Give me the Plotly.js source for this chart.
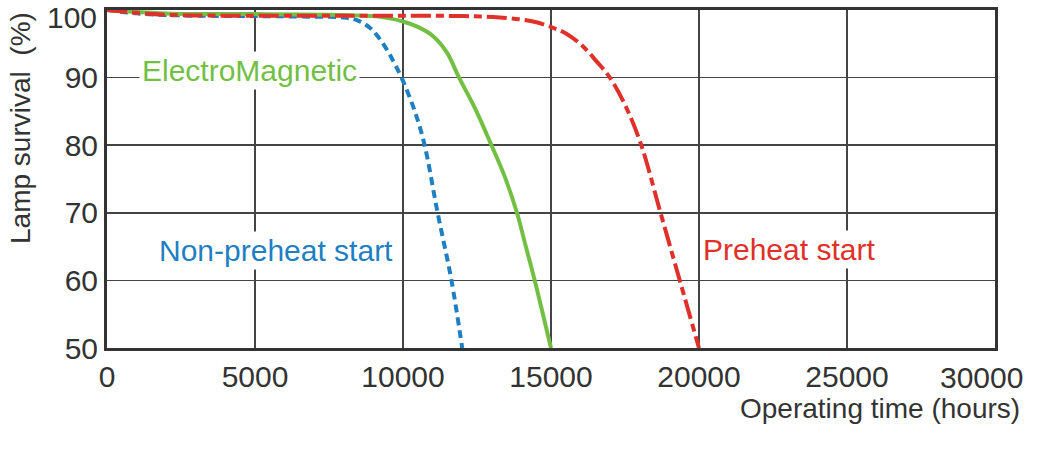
<!DOCTYPE html>
<html>
<head>
<meta charset="utf-8">
<script src="https://cdn.plot.ly/plotly-3.0.1.min.js"></script>
<style>
  html, body { margin: 0; padding: 0; background: #fff; }
  #chart { width: 1048px; height: 460px; }
</style>
</head>
<body>
<div id="chart"></div>
<script>
// operating hours / survival %
var nonPreheatHours = [0, 1000, 2500, 5000, 7000, 8000, 8500, 8900, 9200, 9500, 9700, 9950, 10400, 10730, 11170, 11637, 12000];
var nonPreheatSurv  = [100, 99.5, 99.2, 99.1, 99.0, 98.9, 98.4, 97.3, 95.8, 93.8, 92.2, 90, 85, 80, 70, 60, 50];

var emHours = [0, 2000, 5000, 7500, 9000, 9500, 10000, 10500, 11000, 11470, 11895, 12450, 12988, 13450, 13850, 14150, 14450, 15000];
var emSurv  = [100, 99.5, 99.4, 99.3, 99.1, 98.8, 98.3, 97.5, 96.2, 93.8, 90, 85.3, 80, 75.2, 70, 65, 60, 50];

var preheatHours = [0, 1500, 3000, 8000, 12000, 13265, 14395, 15050, 15520, 16085, 16540, 16990, 17550, 18050, 18700, 19350, 20000];
var preheatSurv  = [100, 99.4, 99.2, 99.15, 99.1, 98.9, 98.3, 97.4, 96.5, 94.6, 92.4, 90, 85.5, 80, 70, 60, 50];

// tick values; the top "100" and right "30000" labels sit nudged inside the frame, as in the picture
var xTicks = [0, 5000, 10000, 15000, 20000, 25000, 30000];
var xTickText = ['0', '5000', '10000', '15000', '20000', '25000', ''];
var yTicks = [50, 60, 70, 80, 90, 100];
var yTickText = ['50', '60', '70', '80', '90', ''];

var BLUE = '#1f7fc3', GREEN = '#72bf44', RED = '#e0302a', INK = '#333333';
var FONT = 'Liberation Sans, Arial, sans-serif';

var traces = [
  {x: nonPreheatHours, y: nonPreheatSurv, mode: 'lines',
   line: {color: BLUE, width: 4, dash: '8px,5px', shape: 'spline', smoothing: 1}},
  {x: emHours, y: emSurv, mode: 'lines',
   line: {color: GREEN, width: 4, shape: 'spline', smoothing: 1}},
  {x: preheatHours, y: preheatSurv, mode: 'lines',
   line: {color: RED, width: 4, dash: '20px,5px,8px,5px', shape: 'spline', smoothing: 1}}
];

var layout = {
  width: 1048, height: 460,
  margin: {l: 107, r: 53, t: 10, b: 112},
  paper_bgcolor: '#fff', plot_bgcolor: '#fff',
  showlegend: false,
  font: {family: FONT, color: INK},
  xaxis: {
    range: [0, 30000], tickvals: xTicks, ticktext: xTickText, ticks: '',
    tickfont: {size: 30, color: INK}, ticklabelstandoff: 0,
    showgrid: true, gridcolor: '#444', gridwidth: 1.5,
    showline: true, linecolor: INK, linewidth: 3, mirror: true,
    zeroline: false, fixedrange: true
  },
  yaxis: {
    range: [50, 100], tickvals: yTicks, ticktext: yTickText, ticks: '',
    tickfont: {size: 30, color: INK}, ticklabelstandoff: 0,
    showgrid: true, gridcolor: '#444', gridwidth: 1.5,
    showline: true, linecolor: INK, linewidth: 3, mirror: true,
    zeroline: false, fixedrange: true
  },
  annotations: [
    {text: 'ElectroMagnetic', x: 4817, y: 91.1, xref: 'x', yref: 'y',
     showarrow: false, font: {size: 30, color: GREEN}, bgcolor: '#fff', borderpad: 2},
    {text: 'Non-preheat start', x: 5710, y: 64.4, xref: 'x', yref: 'y',
     showarrow: false, font: {size: 30, color: BLUE}, bgcolor: '#fff', borderpad: 2},
    {text: 'Preheat start', x: 23056, y: 64.5, xref: 'x', yref: 'y',
     showarrow: false, font: {size: 30, color: RED}, bgcolor: '#fff', borderpad: 2},
    {text: yTicks[5], xref: 'paper', yref: 'y', x: 0, y: yTicks[5],
     xanchor: 'right', yanchor: 'middle', xshift: -8, yshift: -7,
     showarrow: false, font: {size: 30, color: INK}},
    {text: xTicks[6], xref: 'x', yref: 'paper', x: xTicks[6], y: 0,
     xanchor: 'center', yanchor: 'middle', xshift: -14, yshift: -29,
     showarrow: false, font: {size: 30, color: INK}},
    {text: 'Lamp survival  (%)', xref: 'paper', yref: 'paper',
     x: -0.098, y: 1.0, xanchor: 'center', yanchor: 'top', textangle: -90,
     showarrow: false, font: {size: 28, color: INK}},
    {text: 'Operating time (hours)', xref: 'paper', yref: 'paper',
     x: 1.030, y: -0.178, xanchor: 'right', yanchor: 'middle',
     showarrow: false, font: {size: 28, color: INK}}
  ]
};

Plotly.newPlot('chart', traces, layout, {staticPlot: true, displayModeBar: false});
</script>
</body>
</html>
